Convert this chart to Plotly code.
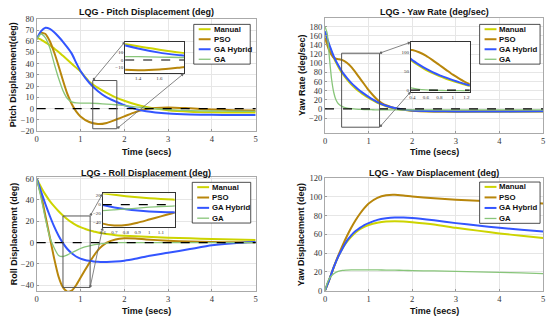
import plotly.graph_objects as go

W, H = 550, 323

names = ["Manual", "PSO", "GA Hybrid", "GA"]
colors = ["#cdd400", "#b8860b", "#3355ff", "#88c57a"]
widths = [2.0, 2.0, 2.0, 1.3]

# ---------------- data ----------------
t_pitch = [0, 0.1, 0.2, 0.3, 0.4, 0.5, 0.6, 0.7, 0.8, 0.9, 1.0, 1.2, 1.4, 1.6, 1.8, 2.0, 2.25, 2.5, 3.0, 3.5, 4.0, 4.5, 5.0]
pitch_manual = [63, 61.5, 59, 56.5, 53.5, 50.5, 47, 43.5, 40, 36.5, 33, 24, 18.5, 14, 10, 7, 3.8, 1.5, -1.5, -2.8, -3.3, -3.5, -3.5]
pitch_pso = [62, 67.5, 66.5, 60, 50, 38, 25, 13, 4, -2.5, -7, -12, -13.8, -12.8, -10, -7, -3.2, -0.5, 1, 0.2, -0.8, -1.5, -1.8]
pitch_hybrid = [62, 69, 72, 71, 68, 64, 59.5, 54.5, 49, 41, 33.5, 23, 15.5, 10, 6.3, 3, -0.3, -2.5, -4.5, -5.3, -5.6, -5.7, -5.7]
pitch_ga = [62, 66.5, 63, 54, 40, 27, 16, 9, 6, 5, 4.8, 4.8, 4.5, 4, 3.4, 2.6, 1.5, 0.5, -1, -1.8, -2.2, -2.4, -2.5]

t_yawrate = [0, 0.05, 0.1, 0.15, 0.2, 0.25, 0.3, 0.4, 0.5, 0.6, 0.7, 0.8, 0.9, 1.0, 1.1, 1.2, 1.3, 1.4, 1.6, 1.8, 2.0, 2.5, 3.0, 4.0, 5.0]
yawrate_manual = [168, 151, 137, 124, 112, 102, 93, 77, 65, 54, 45, 37, 30, 24, 18.5, 13.5, 9.5, 6, 1, -2, -4, -5.5, -6, -6, -5.5]
yawrate_pso = [156, 140, 127, 118, 112, 110, 109, 107, 101, 92, 80, 67, 54, 41, 30, 20, 13, 8, 1.5, -2, -4, -5.5, -5.5, -5, -5]
yawrate_hybrid = [170, 154, 140, 127, 115, 105, 96, 80, 68, 57, 48, 40, 33, 26.5, 20.5, 15, 10.5, 7, 2, -1.5, -3.5, -5, -5.5, -5.5, -5]
yawrate_ga = [180, 165, 112, 65, 36, 20, 12, 5, 2, 0.5, -0.5, -1, -1.5, -1.5, -1.8, -2, -2, -2, -2, -2, -2, -2, -2, -2, -2]

t_roll = [0, 0.1, 0.2, 0.3, 0.4, 0.5, 0.6, 0.7, 0.8, 0.9, 1.0, 1.1, 1.2, 1.3, 1.4, 1.5, 1.6, 1.8, 2.0, 2.25, 2.5, 3.0, 3.5, 4.0, 4.5, 5.0]
roll_manual = [60, 52, 45, 39, 34, 29.5, 25.5, 22, 19, 16.5, 14.5, 13, 11.5, 10.5, 9.5, 8.7, 8, 7, 6.5, 6, 5.5, 4.5, 4, 3.5, 3, 2.5]
roll_pso = [60, 45, 25, 5, -15, -32, -42, -46, -45, -40, -33, -26, -19, -12.5, -7, -3, 0, 3, 4, 3.8, 3, 1.8, 1, 0.5, 0.3, 0.3]
roll_hybrid = [60, 48, 36, 25, 15, 6.5, -0.5, -6, -10, -13, -15, -16.2, -17, -17.6, -18, -18.2, -18.2, -17.8, -17, -15.2, -13, -9.5, -6, -2.5, -0.5, 0.5]
roll_ga = [60, 42, 22, 5, -5, -12, -13, -11.5, -9.5, -7.5, -5.5, -4, -3, -2, -1.5, -1, -0.5, 0, 0, 0, 0, 0, 0, 0, 0, 0]

t_yaw = [0, 0.05, 0.1, 0.2, 0.3, 0.4, 0.5, 0.6, 0.7, 0.8, 0.9, 1.0, 1.2, 1.4, 1.6, 1.8, 2.0, 2.5, 3.0, 3.5, 4.0, 4.5, 5.0]
yaw_manual = [0, 6, 12, 25, 36, 45, 52, 57.5, 62, 65.5, 68, 70, 72.5, 73.8, 74, 73.8, 73, 70.5, 67, 64, 61, 58.5, 56]
yaw_pso = [0, 6, 12, 25, 37, 48, 58, 67, 75, 82, 88, 93, 99, 101.8, 102.2, 101.5, 100.5, 98.5, 97, 96, 95, 94, 93]
yaw_hybrid = [0, 6, 12, 25, 36, 45, 53, 59, 63.5, 67, 70, 72, 75.5, 77.2, 78, 78, 77.5, 75, 72, 69.5, 67, 65, 63]
yaw_ga = [0, 8, 13, 18, 20.5, 21.5, 21.8, 22, 22, 22, 22, 22, 22, 21.9, 21.8, 21.6, 21.3, 21, 20.5, 20, 19.5, 18.8, 18]

x_ticks = [0, 1, 2, 3, 4, 5]

panels = [
    dict(t=t_pitch, ys=[pitch_manual, pitch_pso, pitch_hybrid, pitch_ga],
         title="LQG - Pitch Displacement (deg)", ytitle="Pitch Displacement(deg)",
         box=(34, 255, 14.3, 130), yrange=[-20, 80], yticks=list(range(-20, 81, 10)),
         zero=True, ytx=10.5, tty=7, xty=151.5, leg=(192.5, 249.5, 20, 61),
         inset=dict(box=(123.3, 182.7, 37.7, 70.5), xr=[1.28, 1.83], yr=[-18, 25],
                    xt=[1.4, 1.6], yt=[-10, 0, 10], rect=(1.28, 1.83, -18, 25),
                    conn=[("l", "t", "l", "t"), ("r", "b", "r", "b")])),
    dict(t=t_yawrate, ys=[yawrate_manual, yawrate_pso, yawrate_hybrid, yawrate_ga],
         title="LQG - Yaw Rate (deg/sec)", ytitle="Yaw Rate (deg/sec)",
         box=(325, 545, 13, 132), yrange=[-52.5, 200], yticks=list(range(-20, 181, 20)),
         zero=True, ytx=301.5, tty=7, xty=151.5, leg=(481, 542, 20, 61),
         inset=dict(box=(411.7, 471, 38.3, 89.3), xr=[0.38, 1.25], yr=[-4, 128],
                    xt=[0.4, 0.6, 0.8, 1, 1.2], yt=[0, 50, 100], rect=(0.38, 1.25, -40, 122),
                    conn=[("r", "t", "l", "t"), ("r", "b", "l", "b")])),
    dict(t=t_roll, ys=[roll_manual, roll_pso, roll_hybrid, roll_ga],
         title="LQG - Roll Displacement (deg)", ytitle="Roll Displacement (deg)",
         box=(34, 255, 177, 295.3), yrange=[-45.5, 62], yticks=[-40, -20, 0, 20, 40, 60],
         zero=True, ytx=10.5, tty=173, xty=316, leg=(191, 250, 183, 225),
         inset=dict(box=(100.7, 173.3, 194.5, 229.3), xr=[0.6, 1.22], yr=[-50, 25],
                    xt=[0.6, 0.7, 0.8, 0.9, 1, 1.1], yt=[-40, -20, 0, 20], rect=(0.6, 1.22, -42, 25),
                    conn=[("r", "t", "l", "t"), ("r", "b", "l", "b")])),
    dict(t=t_yaw, ys=[yaw_manual, yaw_pso, yaw_hybrid, yaw_ga],
         title="LQG - Yaw Displacement (deg)", ytitle="Yaw Displacement (deg)",
         box=(325, 545, 178.7, 294.7), yrange=[0, 120], yticks=list(range(0, 121, 20)),
         zero=False, ytx=301.5, tty=173, xty=316, leg=(481, 542, 182.7, 225.3),
         inset=None),
]


def pxx(x):
    return x / W


def pyy(y):
    return 1 - y / H


fig = go.Figure()
shapes = []
annotations = []
layout = {}

TITLE_FONT = dict(family="Liberation Sans, Arial", size=9, color="#111111")
TICK_FONT = dict(family="Liberation Serif, Times New Roman, serif", size=8.5, color="#333333")
INSET_TICK_FONT = dict(family="Liberation Serif, serif", size=5, color="#333333")

inset_idx = 5
for i, p in enumerate(panels, start=1):
    xa = "x" if i == 1 else f"x{i}"
    ya = "y" if i == 1 else f"y{i}"
    l, r, tp, bt = p["box"]
    layout["xaxis" if i == 1 else f"xaxis{i}"] = dict(
        domain=[pxx(l), pxx(r)], anchor=ya, range=[0, 5], tickvals=x_ticks,
        showgrid=True, gridcolor="#e6e6e6", gridwidth=1, zeroline=False,
        showline=True, mirror=True, linecolor="#aaaaaa", linewidth=1,
        ticks="inside", ticklen=2, tickcolor="#999999", tickfont=TICK_FONT)
    layout["yaxis" if i == 1 else f"yaxis{i}"] = dict(
        domain=[pyy(bt), pyy(tp)], anchor=xa, range=p["yrange"], tickvals=p["yticks"],
        showgrid=True, gridcolor="#e6e6e6", gridwidth=1, zeroline=False,
        showline=True, mirror=True, linecolor="#aaaaaa", linewidth=1,
        ticks="inside", ticklen=2, tickcolor="#999999", tickfont=TICK_FONT)
    for k in range(4):
        fig.add_trace(go.Scatter(x=p["t"], y=p["ys"][k], mode="lines", name=names[k],
                                 line=dict(color=colors[k], width=widths[k], shape="spline", smoothing=0.6),
                                 xaxis=xa, yaxis=ya, showlegend=False, hoverinfo="skip"))
    if p["zero"]:
        shapes.append(dict(type="line", xref=f"{xa} domain", yref=ya, x0=0, x1=1, y0=0, y1=0,
                           line=dict(color="black", width=1.2, dash="dash"), layer="above"))
    cx = (l + r) / 2
    annotations.append(dict(text=f"<b>{p['title']}</b>", x=pxx(cx), y=pyy(p["tty"]), xref="paper", yref="paper",
                            showarrow=False, font=TITLE_FONT, xanchor="center", yanchor="middle"))
    annotations.append(dict(text="<b>Time (secs)</b>", x=pxx(cx), y=pyy(p["xty"]), xref="paper", yref="paper",
                            showarrow=False, font=TITLE_FONT, xanchor="center", yanchor="middle"))
    annotations.append(dict(text=f"<b>{p['ytitle']}</b>", x=pxx(p["ytx"]), y=pyy((tp + bt) / 2), xref="paper",
                            yref="paper", showarrow=False, font=TITLE_FONT, textangle=-90,
                            xanchor="center", yanchor="middle"))
    # legend (manual, boxed)
    ll, lr, lt, lb = p["leg"]
    shapes.append(dict(type="rect", xref="paper", yref="paper", x0=pxx(ll), x1=pxx(lr), y0=pyy(lb), y1=pyy(lt),
                       line=dict(color="#222222", width=0.8), fillcolor="white", layer="above"))
    step = (lb - lt - 10) / 3.0
    for k in range(4):
        yy = lt + 5 + k * step
        shapes.append(dict(type="line", xref="paper", yref="paper", x0=pxx(ll + 5), x1=pxx(ll + 17),
                           y0=pyy(yy), y1=pyy(yy), line=dict(color=colors[k], width=widths[k]), layer="above"))
        annotations.append(dict(text=f"<b>{names[k]}</b>", x=pxx(ll + 18), y=pyy(yy), xref="paper", yref="paper",
                                showarrow=False, xanchor="left", yanchor="middle",
                                font=dict(family="Liberation Sans, Arial", size=7.8, color="#111111")))
    ins = p["inset"]
    if ins:
        ix = f"x{inset_idx}"
        iy = f"y{inset_idx}"
        il, ir, it, ib = ins["box"]
        layout[f"xaxis{inset_idx}"] = dict(
            domain=[pxx(il), pxx(ir)], anchor=iy, range=ins["xr"], tickvals=ins["xt"],
            showgrid=False, zeroline=False, showline=True, mirror=True, linecolor="#333333", linewidth=1,
            ticks="", tickfont=INSET_TICK_FONT, ticklabelstandoff=0)
        layout[f"yaxis{inset_idx}"] = dict(
            domain=[pyy(ib), pyy(it)], anchor=ix, range=ins["yr"], tickvals=ins["yt"],
            showgrid=False, zeroline=False, showline=True, mirror=True, linecolor="#333333", linewidth=1,
            ticks="", tickfont=INSET_TICK_FONT, ticklabelstandoff=0)
        for k in range(4):
            fig.add_trace(go.Scatter(x=p["t"], y=p["ys"][k], mode="lines", name=names[k],
                                     line=dict(color=colors[k], width=widths[k], shape="spline", smoothing=0.6),
                                     xaxis=ix, yaxis=iy, showlegend=False, hoverinfo="skip"))
        shapes.append(dict(type="line", xref=f"{ix} domain", yref=iy, x0=0, x1=1, y0=0, y1=0,
                           line=dict(color="black", width=1.2, dash="dash"), layer="above"))
        rx0, rx1, ry0, ry1 = ins["rect"]
        shapes.append(dict(type="rect", xref=xa, yref=ya, x0=rx0, x1=rx1, y0=ry0, y1=ry1,
                           line=dict(color="#555555", width=1), layer="above"))
        x0r, x1r = 0, 5
        y0r, y1r = p["yrange"]

        def to_data(pxv, pyv):
            xd = x0r + (pxv - l) / (r - l) * (x1r - x0r)
            yd = y0r + (bt - pyv) / (bt - tp) * (y1r - y0r)
            return xd, yd

        for (rcx, rcy, icx, icy) in ins["conn"]:
            ax_ = rx0 if rcx == "l" else rx1
            ay_ = ry1 if rcy == "t" else ry0
            ipx = il if icx == "l" else ir
            ipy = it if icy == "t" else ib
            hx, hy = to_data(ipx, ipy)
            annotations.append(dict(x=hx, y=hy, xref=xa, yref=ya, ax=ax_, ay=ay_, axref=xa, ayref=ya,
                                    text="", showarrow=True, arrowhead=2, arrowsize=0.8, arrowwidth=0.8,
                                    arrowcolor="#666666", arrowside="end+start", startarrowhead=6,
                                    startarrowsize=0.8))
        inset_idx += 1

fig.update_layout(**layout)
fig.update_layout(width=W, height=H, margin=dict(l=0, r=0, t=0, b=0),
                  plot_bgcolor="white", paper_bgcolor="white",
                  shapes=shapes, annotations=annotations, showlegend=False, hovermode=False)

fig.write_html("out.html", config={"displayModeBar": False},
               post_script="document.body.style.margin='0';")
